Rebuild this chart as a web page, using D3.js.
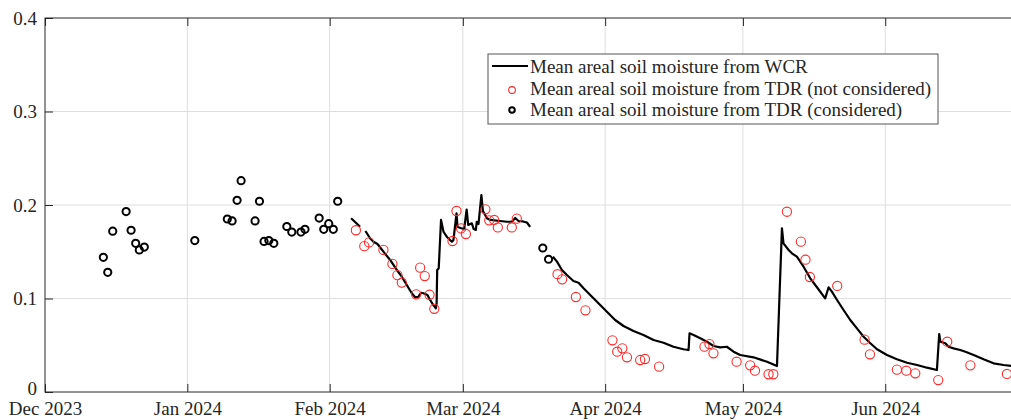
<!DOCTYPE html>
<html>
<head>
<meta charset="utf-8">
<script src="https://cdn.jsdelivr.net/npm/d3@7"></script>
<style>
  body { margin: 0; background: #fff; }
</style>
</head>
<body>
<div id="chart"></div>
<script>
// TDR readings kept for the comparison (black)
const consideredDates = [
  "2023-12-13T17", "2023-12-14T16", "2023-12-15T18", "2023-12-18T16", "2023-12-19T18",
  "2023-12-20T18", "2023-12-21T13", "2023-12-22T15", "2024-01-02T15", "2024-01-09T17",
  "2024-01-10T18", "2024-01-11T20", "2024-01-12T17", "2024-01-15T18", "2024-01-16T17",
  "2024-01-17T17", "2024-01-18T18", "2024-01-19T20", "2024-01-22T16", "2024-01-23T18",
  "2024-01-25T18", "2024-01-26T15", "2024-01-29T17", "2024-01-30T17", "2024-01-31T19",
  "2024-02-01T19", "2024-02-02T18", "2024-03-18T10", "2024-03-19T16"
];
const consideredValues = [
  0.144, 0.128, 0.172, 0.193, 0.173,
  0.159, 0.152, 0.155, 0.162, 0.185,
  0.183, 0.205, 0.226, 0.183, 0.204,
  0.161, 0.162, 0.159, 0.177, 0.171,
  0.171, 0.174, 0.186, 0.174, 0.180,
  0.174, 0.204, 0.154, 0.142
];

// TDR readings not considered (red)
const otherDates = [
  "2024-02-06T17", "2024-02-08T13", "2024-02-09T14", "2024-02-12T17", "2024-02-14T16",
  "2024-02-15T18", "2024-02-16T17", "2024-02-19T20", "2024-02-20T17", "2024-02-21T17",
  "2024-02-22T18", "2024-02-23T19", "2024-02-27T18", "2024-02-28T15", "2024-02-29T15",
  "2024-03-01T16", "2024-03-05T22", "2024-03-06T18", "2024-03-07T20", "2024-03-08T15",
  "2024-03-11T16", "2024-03-12T18", "2024-03-21T15", "2024-03-22T15", "2024-03-25T15",
  "2024-03-27T17", "2024-04-02T14", "2024-04-03T15", "2024-04-04T18", "2024-04-05T18",
  "2024-04-08T15", "2024-04-09T16", "2024-04-12T18", "2024-04-22T15", "2024-04-23T17",
  "2024-04-24T14", "2024-04-29T15", "2024-05-02T14", "2024-05-03T15", "2024-05-06T14",
  "2024-05-07T15", "2024-05-10T14", "2024-05-13T15", "2024-05-14T15", "2024-05-15T14",
  "2024-05-21T13", "2024-05-27T12", "2024-05-28T16", "2024-06-03T13", "2024-06-05T14",
  "2024-06-07T13", "2024-06-12T13", "2024-06-14T12", "2024-06-19T13", "2024-06-27T12"
];
const otherValues = [
  0.173, 0.156, 0.160, 0.152, 0.137,
  0.125, 0.117, 0.1045, 0.133, 0.124,
  0.104, 0.089, 0.1615, 0.1936, 0.175,
  0.169, 0.1954, 0.1836, 0.184, 0.176,
  0.176, 0.1854, 0.126, 0.1205, 0.1016,
  0.0874, 0.0553, 0.0431, 0.0467, 0.0371,
  0.0342, 0.0353, 0.0271, 0.0485, 0.0513,
  0.0414, 0.0324, 0.0285, 0.0228, 0.019,
  0.019, 0.1928, 0.1608, 0.1415, 0.123,
  0.1134, 0.056, 0.0403, 0.0239, 0.0228,
  0.020, 0.0128, 0.0538, 0.0285, 0.0193
];

// WCR mean areal soil moisture (null = no data)
const wcrDates = [
  "2024-02-05T16", "2024-02-07T15", "2024-02-08T05",
  "2024-02-08T19", "2024-02-09T19", "2024-02-10T13", "2024-02-11T10", "2024-02-11T23",
  "2024-02-12T17", "2024-02-14T04", "2024-02-15T15", "2024-02-16T17", "2024-02-17T19",
  "2024-02-18T21", "2024-02-19T15", "2024-02-20T08", "2024-02-20T22", "2024-02-21T10",
  "2024-02-22T07", "2024-02-22T21", "2024-02-23T14", "2024-02-24T03", "2024-02-24T07",
  "2024-02-24T10", "2024-02-24T18", "2024-02-25T06", "2024-02-25T19", "2024-02-26T12",
  "2024-02-27T15", "2024-02-27T23", "2024-02-28T15", "2024-02-28T20", "2024-02-29T12",
  "2024-03-01T07", "2024-03-01T20", "2024-03-02T04", "2024-03-02T23", "2024-03-03T09",
  "2024-03-03T20", "2024-03-04T01", "2024-03-04T10", "2024-03-05T01", "2024-03-05T09",
  "2024-03-06T06", "2024-03-06T23", "2024-03-09T03", "2024-03-10T14", "2024-03-11T16",
  "2024-03-12T10", "2024-03-13T03", "2024-03-14T02", "2024-03-14T23", "2024-03-15T16",
  "2024-03-18T00",
  "2024-03-20T15", "2024-03-21T12", "2024-03-22T14", "2024-03-23T16", "2024-03-25T02",
  "2024-03-26T05", "2024-03-27T07", "2024-03-28T18", "2024-03-30T13", "2024-04-01T09",
  "2024-04-03T04", "2024-04-05T00", "2024-04-07T04", "2024-04-09T08", "2024-04-11T13",
  "2024-04-13T17", "2024-04-15T21", "2024-04-18T01", "2024-04-19T04", "2024-04-19T09",
  "2024-04-20T06", "2024-04-21T17", "2024-04-23T04", "2024-04-24T14", "2024-04-26T01",
  "2024-04-27T12", "2024-04-28T23", "2024-04-30T10", "2024-05-03T07", "2024-05-06T06",
  "2024-05-08T10", "2024-05-09T12", "2024-05-09T20", "2024-05-10T23", "2024-05-11T16",
  "2024-05-12T18", "2024-05-14T05", "2024-05-15T16", "2024-05-17T03", "2024-05-18T22",
  "2024-05-19T16", "2024-05-20T09", "2024-05-21T12", "2024-05-22T22", "2024-05-24T09",
  "2024-05-25T20", "2024-05-27T07", "2024-05-28T18", "2024-05-30T05", "2024-06-01T09",
  "2024-06-03T13", "2024-06-05T18", "2024-06-07T22", "2024-06-10T02", "2024-06-12T06",
  "2024-06-12T18", "2024-06-13T00", "2024-06-14T02", "2024-06-14T19", "2024-06-15T21",
  "2024-06-17T08", "2024-06-18T11", "2024-06-20T06", "2024-06-22T10", "2024-06-24T14",
  "2024-06-26T19", "2024-06-28T11"
];
const wcrValues = [
  0.1858, 0.1768, null,
  0.1722, 0.1644, 0.1607, 0.1583, 0.1548,
  0.1501, 0.1412, 0.1305, 0.1233, 0.1144,
  0.1056, 0.1013, 0.1019, 0.1062, 0.1056,
  0.1037, 0.0984, 0.0930, 0.0895, 0.0952,
  0.1305, 0.1323, 0.184, 0.1714, 0.1661,
  0.1607, 0.1626, 0.1911, 0.1768, 0.1754,
  0.1743, 0.1952, 0.1786, 0.1804, 0.1743,
  0.1733, 0.1821, 0.1797, 0.2107, 0.1936,
  0.1858, 0.184, 0.1829, 0.1821, 0.1821,
  0.1861, 0.1829, 0.1824, 0.1813, 0.1765,
  null,
  0.1447, 0.1394, 0.1305, 0.1251, 0.1187,
  0.1169, 0.1109, 0.1037, 0.0949, 0.0859,
  0.0770, 0.0706, 0.0652, 0.0610, 0.0556,
  0.0527, 0.0484, 0.0457, 0.0449, 0.0628,
  0.0610, 0.0574, 0.0538, 0.0492, 0.0478,
  0.0484, 0.0431, 0.0396, 0.0371, 0.0324,
  0.0278, 0.1751, 0.1590, 0.1519, 0.1483,
  0.1447, 0.1340, 0.1216, 0.1120, 0.1002,
  0.1120, 0.1073, 0.0984, 0.0877, 0.0770,
  0.0681, 0.0591, 0.0521, 0.0457, 0.0396,
  0.0350, 0.0313, 0.0289, 0.0260, 0.0235,
  0.0620, 0.0538, 0.0521, 0.0484, 0.0467,
  0.0449, 0.0431, 0.0396, 0.0350, 0.0307,
  0.0289, 0.0278
];

const yTicks = [0, 0.1, 0.2, 0.3, 0.4];
const xStart = "2023-12-01T00", xEnd = "2024-07-01T00";
const legendLabels = [
  "Mean areal soil moisture from WCR",
  "Mean areal soil moisture from TDR (not considered)",
  "Mean areal soil moisture from TDR (considered)"
];

const serif = "'Liberation Serif', 'Times New Roman', 'DejaVu Serif', serif";
const parseTime = d3.timeParse("%Y-%m-%dT%H");

const width = 1011, height = 420;
const margin = {top: 18, left: 45, bottom: 28};
const plotRight = 1023;   // the box runs off the right edge of the picture

const svg = d3.select("#chart").append("svg")
  .attr("width", width)
  .attr("height", height);

const x = d3.scaleTime()
  .domain([parseTime(xStart), parseTime(xEnd)])
  .range([margin.left, plotRight]);
const y = d3.scaleLinear()
  .domain([0, 0.4])
  .range([height - margin.bottom, margin.top]);

const monthTicks = d3.timeMonth.range(parseTime(xStart), parseTime(xEnd));

// grid
svg.append("g")
  .selectAll("line")
  .data(monthTicks.slice(1))
  .enter().append("line")
    .attr("x1", d => x(d)).attr("x2", d => x(d))
    .attr("y1", y(0)).attr("y2", y(0.4))
    .attr("stroke", "#dedede").attr("stroke-width", 1);
svg.append("g")
  .selectAll("line")
  .data(yTicks.slice(1, -1))
  .enter().append("line")
    .attr("x1", margin.left).attr("x2", plotRight)
    .attr("y1", d => y(d)).attr("y2", d => y(d))
    .attr("stroke", "#dedede").attr("stroke-width", 1);

// axes, ticks pointing inward like matlab
const xAxis = svg.append("g")
  .attr("transform", "translate(0," + y(0) + ")")
  .call(d3.axisBottom(x).tickValues(monthTicks).tickFormat(d3.timeFormat("%b %Y"))
    .tickSizeInner(-8).tickSizeOuter(0).tickPadding(10));

svg.append("g")
  .attr("transform", "translate(0," + y(0.4) + ")")
  .call(d3.axisTop(x).tickValues(monthTicks).tickFormat("").tickSizeInner(-8).tickSizeOuter(0));

const yAxis = svg.append("g")
  .attr("transform", "translate(" + margin.left + ",0)")
  .call(d3.axisLeft(y).tickValues(yTicks).tickFormat(d => d === 0 ? "0" : d3.format(".1f")(d))
    .tickSizeInner(-8).tickSizeOuter(0).tickPadding(8));

svg.selectAll(".tick text")
  .attr("font-family", serif)
  .attr("font-size", 19)
  .attr("fill", "#262626");
// lift the "0" a little so it clears the first date label
yAxis.selectAll(".tick text").filter(d => d === 0).attr("y", -4);
svg.selectAll(".domain").remove();
svg.selectAll(".tick line").attr("stroke", "#262626");

svg.append("rect")
  .attr("x", margin.left).attr("y", y(0.4))
  .attr("width", plotRight - margin.left).attr("height", y(0) - y(0.4))
  .attr("fill", "none").attr("stroke", "#262626").attr("stroke-width", 1);

// WCR line
const wcr = wcrDates.map((d, i) => ({date: parseTime(d), value: wcrValues[i]}));
svg.append("path")
  .datum(wcr)
  .attr("fill", "none")
  .attr("stroke", "#000")
  .attr("stroke-width", 2.2)
  .attr("stroke-linejoin", "round")
  .attr("d", d3.line()
    .defined(d => d.value !== null)
    .x(d => x(d.date))
    .y(d => y(d.value)));

// TDR not considered
svg.append("g")
  .selectAll("circle")
  .data(otherDates.map((d, i) => [parseTime(d), otherValues[i]]))
  .enter().append("circle")
    .attr("cx", d => x(d[0]))
    .attr("cy", d => y(d[1]))
    .attr("r", 4.6)
    .attr("fill", "none")
    .attr("stroke", "#ff2a2a")
    .attr("stroke-width", 1.1);

// TDR considered
svg.append("g")
  .selectAll("circle")
  .data(consideredDates.map((d, i) => [parseTime(d), consideredValues[i]]))
  .enter().append("circle")
    .attr("cx", d => x(d[0]))
    .attr("cy", d => y(d[1]))
    .attr("r", 3.6)
    .attr("fill", "none")
    .attr("stroke", "#000")
    .attr("stroke-width", 2);

// legend
const legend = svg.append("g").attr("transform", "translate(488,54)");
legend.append("rect")
  .attr("width", 450).attr("height", 70)
  .attr("fill", "#fff").attr("stroke", "#555").attr("stroke-width", 1);
legend.append("line")
  .attr("x1", 4).attr("x2", 40).attr("y1", 12).attr("y2", 12)
  .attr("stroke", "#000").attr("stroke-width", 2.2);
legend.append("circle")
  .attr("cx", 24).attr("cy", 36).attr("r", 3.4)
  .attr("fill", "none").attr("stroke", "#ff2a2a").attr("stroke-width", 1.1);
legend.append("circle")
  .attr("cx", 24).attr("cy", 56).attr("r", 2.8)
  .attr("fill", "none").attr("stroke", "#000").attr("stroke-width", 2);
legend.selectAll("text.lab")
  .data(legendLabels)
  .enter().append("text")
    .attr("class", "lab")
    .attr("x", 42)
    .attr("y", (d, i) => 19 + i * 21.5)
    .attr("font-family", serif)
    .attr("font-size", 19)
    .attr("fill", "#262626")
    .text(d => d);
</script>
</body>
</html>
